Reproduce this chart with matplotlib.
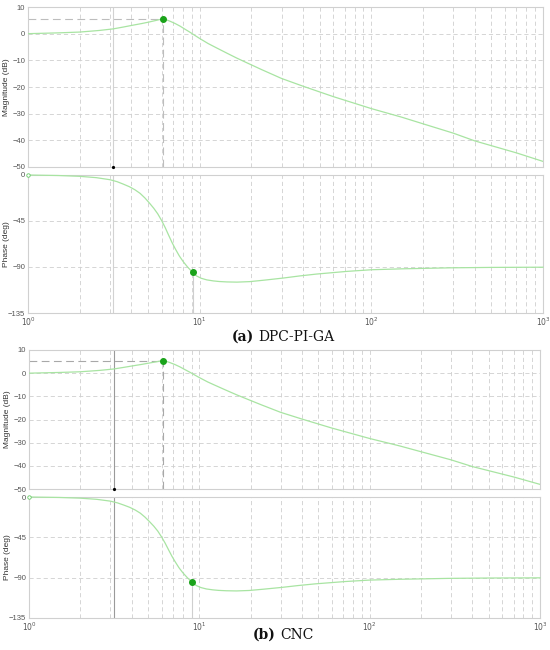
import matplotlib
matplotlib.use("Agg")
import matplotlib.pyplot as plt
from matplotlib.ticker import FixedLocator, NullFormatter
from matplotlib.transforms import offset_copy

# ---------------- data ----------------
mag_freq = [1, 1.5, 2, 2.6, 3.14, 3.6, 4.1, 4.6, 5.1, 5.6, 5.85, 6.1, 6.4, 6.7, 7.2, 7.7, 8.2, 8.8, 9.4, 10,
            11.2, 12.6, 14.4, 16.5, 18.8, 23, 30, 40, 60, 100, 150, 200, 300, 400, 700, 1000]
mag_a = [0, 0.3, 0.6, 1.2, 1.8, 2.5, 3.2, 3.8, 4.4, 5.0, 5.3, 5.4, 5.2, 4.7, 3.8, 2.8, 1.7, 0.5, -0.7, -1.8,
         -3.7, -5.4, -7.3, -9.2, -10.9, -13.5, -16.8, -19.7, -23.6, -28.1, -31.3, -33.8, -37.3, -40.2, -44.7, -47.9]
mag_b = [0, 0.3, 0.6, 1.2, 1.8, 2.5, 3.2, 3.8, 4.4, 4.9, 5.2, 5.3, 5.1, 4.6, 3.7, 2.7, 1.6, 0.4, -0.8, -1.9,
         -3.8, -5.5, -7.4, -9.3, -11.0, -13.6, -16.9, -19.8, -23.7, -28.2, -31.4, -33.9, -37.4, -40.3, -44.8, -48.0]

ph_freq = [1, 1.5, 2, 2.5, 3.0, 3.3, 3.6, 3.9, 4.2, 4.5, 4.8, 5.1, 5.4, 5.7, 6.0, 6.3, 6.6, 6.9, 7.2, 7.6,
           8.0, 8.5, 9.1, 9.6, 10.2, 11, 12, 13, 14.4, 16.5, 19.6, 24, 30.7, 38, 48, 72, 100, 150, 290, 500, 1000]
ph_a = [0, -0.5, -1.3, -2.6, -4.6, -6.5, -9, -11.5, -14.5, -18, -22.5, -27.5, -32.5, -38, -44.5, -51.5, -59, -66,
        -72, -79, -84.5, -90, -95.3, -98.8, -101.0, -102.6, -103.6, -104.2, -104.6, -104.8, -104.3, -102.8,
        -100.8, -98.8, -96.9, -94.3, -92.7, -91.8, -90.8, -90.4, -90.2]
ph_b = ph_a[:]

peak_freq = 6.1
peak_mag = [5.4, 5.3]
phase_mark_freq = 9.1
phase_mark = [-95.3, -95.3]
cross_freq = 3.14

mag_ticks = [10, 0, -10, -20, -30, -40, -50]
ph_ticks = [0, -45, -90, -135]
x_ticks = [1, 10, 100, 1000]
x_ticklabels = [r'$10^{0}$', r'$10^{1}$', r'$10^{2}$', r'$10^{3}$']
captions = [("(a)", "DPC-PI-GA"), ("(b)", "CNC")]

# ---------------- style ----------------
W, H = 550, 650
fig = plt.figure(figsize=(W / 100, H / 100), dpi=100)
plt.rcParams['font.family'] = ['Liberation Sans', 'DejaVu Sans']

curve_col = '#a8e4a2'
mark_col = '#1aa31a'
grid_col = '#cfcfcf'
spine_col = '#d0d0d0'
tick_col = '#555555'

def px(x0, y_top, x1, y_bot):
    return [x0 / W, 1 - y_bot / H, (x1 - x0) / W, (y_bot - y_top) / H]

layouts = [
    dict(mag=px(28, 7, 543, 167), ph=px(28, 175, 543, 313), cap=(232, 337), vcol='#d2d2d2', dcol='#bdbdbd'),
    dict(mag=px(29, 350, 540, 489), ph=px(29, 497, 540, 618), cap=(253, 635), vcol='#9a9a9a', dcol='#a8a8a8'),
]
mags = [mag_a, mag_b]
phs = [ph_a, ph_b]

minor = [m * 10 ** d for d in range(3) for m in range(2, 10)]

def style(ax, yticks, ylim):
    ax.set_xscale('log')
    ax.set_xlim(1, 1000)
    ax.set_ylim(*ylim)
    ax.xaxis.set_major_locator(FixedLocator(x_ticks))
    ax.xaxis.set_minor_locator(FixedLocator(minor))
    ax.xaxis.set_minor_formatter(NullFormatter())
    ax.set_yticks(yticks)
    ax.set_yticklabels([str(t).replace('-', '\u2212') for t in yticks])
    ax.tick_params(axis='both', which='both', length=0, labelsize=5.5, colors=tick_col, pad=2)
    ax.grid(True, which='major', axis='y', color=grid_col, linestyle=(0, (5, 3.5)), linewidth=0.6)
    ax.grid(True, which='both', axis='x', color=grid_col, linestyle=(0, (5, 3.5)), linewidth=0.6)
    for s in ax.spines.values():
        s.set_color(spine_col)
        s.set_linewidth(0.8)
    ax.set_axisbelow(True)

for i, L in enumerate(layouts):
    axm = fig.add_axes(L['mag'])
    axp = fig.add_axes(L['ph'])
    style(axm, mag_ticks, (-50, 10))
    style(axp, ph_ticks, (-135, 0))
    axm.set_xticklabels([])
    axp.set_xticklabels(x_ticklabels)

    # magnitude
    axm.plot(mag_freq, mags[i], color=curve_col, lw=0.9, zorder=3, solid_joinstyle='round')
    axm.plot([1, peak_freq], [peak_mag[i], peak_mag[i]], color=L['dcol'], lw=0.8,
             linestyle=(0, (7, 4)), zorder=2)
    axm.plot([peak_freq, peak_freq], [-50, peak_mag[i]], color=L['dcol'], lw=0.8,
             linestyle=(0, (7, 4)), zorder=2)
    axm.plot([cross_freq, cross_freq], [-50, 10], color=L['vcol'], lw=0.8, zorder=2)
    axm.plot([cross_freq], [-50], 'o', color='black', ms=1.3, zorder=5, clip_on=False)
    axm.plot([peak_freq], [peak_mag[i]], 'o', color=mark_col, ms=4, zorder=5)
    axm.set_ylabel('Magnitude (dB)', fontsize=6, color='#333333')

    # phase
    axp.plot(ph_freq, phs[i], color=curve_col, lw=0.9, zorder=3, clip_on=False, solid_joinstyle='round')
    axp.plot([cross_freq, cross_freq], [-135, 0], color=L['vcol'], lw=0.8, zorder=2)
    axp.plot([phase_mark_freq, phase_mark_freq], [-135, phase_mark[i]], color='#cfcfcf', lw=0.8, zorder=2)
    axp.plot([phase_mark_freq], [phase_mark[i]], 'o', color=mark_col, ms=4, zorder=5)
    axp.plot([1], [0], 'o', mfc='white', mec='#66cc66', ms=2.5, mew=0.6, zorder=5, clip_on=False)
    axp.set_ylabel('Phase (deg)', fontsize=6, color='#333333')

    axm.yaxis.set_label_coords(-0.035, 0.5)
    axp.yaxis.set_label_coords(-0.035, 0.5)

    # caption
    lab, rest = captions[i]
    cx, cy = L['cap']
    t1 = fig.text(cx / W, 1 - cy / H, lab, fontsize=10, fontweight='bold', family='DejaVu Serif',
                  ha='left', va='center', color='#111111')
    fig.canvas.draw()
    bb = t1.get_window_extent()
    fig.text(bb.x1 / W + 4 / W, 1 - cy / H, rest, fontsize=10, family='DejaVu Serif',
             ha='left', va='center', color='#111111')

fig.savefig('out.png', dpi=100)
